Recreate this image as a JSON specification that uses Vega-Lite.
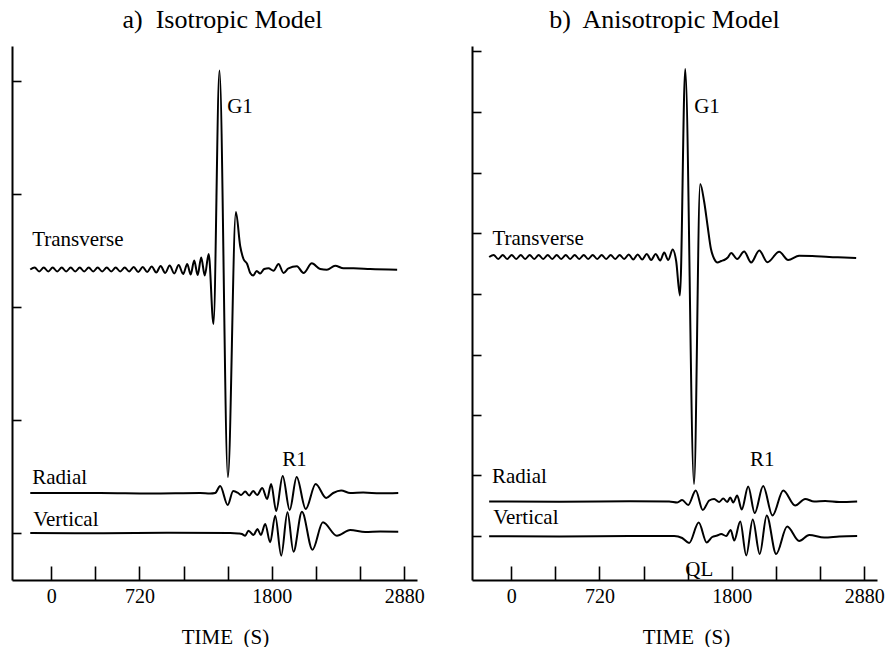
{
  "$schema": "https://vega.github.io/schema/vega-lite/v6.json",
  "padding": {"left": 11, "top": 7, "right": 0, "bottom": 0},
  "background": "white",
  "config": {
    "font": "Liberation Serif",
    "view": {"stroke": null},
    "title": {"font": "Liberation Serif", "fontSize": 26, "fontWeight": "normal", "color": "black", "baseline": "alphabetic", "offset": 13},
    "axis": {"grid": false, "domainColor": "black", "domainWidth": 2, "tickColor": "black", "tickWidth": 1.6, "labelColor": "black", "titleColor": "black", "labelFont": "Liberation Serif", "titleFont": "Liberation Serif"}
  },
  "datasets": {
    "a": [
      {"c":"T","t":-171,"v":310.5},{"c":"T","t":-135,"v":312.5},{"c":"T","t":-98,"v":308.5},{"c":"T","t":-61,"v":312.5},{"c":"T","t":-24,"v":308.5},{"c":"T","t":12,"v":312.5},{"c":"T","t":49,"v":308.5},{"c":"T","t":86,"v":312.5},{"c":"T","t":122,"v":308.5},{"c":"T","t":159,"v":312.5},{"c":"T","t":196,"v":308.5},{"c":"T","t":233,"v":312.5},{"c":"T","t":269,"v":308.5},{"c":"T","t":306,"v":312.5},{"c":"T","t":343,"v":308.5},{"c":"T","t":379,"v":312.5},{"c":"T","t":416,"v":308.5},{"c":"T","t":453,"v":312.5},{"c":"T","t":490,"v":308.5},{"c":"T","t":526,"v":312.5},{"c":"T","t":563,"v":308.5},{"c":"T","t":600,"v":312.5},{"c":"T","t":636,"v":308.5},{"c":"T","t":673,"v":313},{"c":"T","t":710,"v":308},{"c":"T","t":747,"v":313},{"c":"T","t":783,"v":308},{"c":"T","t":820,"v":313.5},{"c":"T","t":857,"v":307.5},{"c":"T","t":893,"v":314},{"c":"T","t":930,"v":307},{"c":"T","t":967,"v":314.5},{"c":"T","t":1004,"v":306.5},{"c":"T","t":1040,"v":315},{"c":"T","t":1077,"v":306},{"c":"T","t":1110,"v":316},{"c":"T","t":1138,"v":305.5},{"c":"T","t":1167,"v":319.5},{"c":"T","t":1195,"v":305},{"c":"T","t":1224,"v":322.5},{"c":"T","t":1253,"v":304.5},{"c":"T","t":1285,"v":326},{"c":"T","t":1324,"v":256},{"c":"T","t":1373,"v":509.5},{"c":"T","t":1442,"v":103},{"c":"T","t":1507,"v":368},{"c":"T","t":1542,"v":334},{"c":"T","t":1569,"v":321},{"c":"T","t":1599,"v":316},{"c":"T","t":1624,"v":307},{"c":"T","t":1648,"v":304.5},{"c":"T","t":1677,"v":309},{"c":"T","t":1705,"v":306.5},{"c":"T","t":1738,"v":311},{"c":"T","t":1773,"v":311.7},{"c":"T","t":1814,"v":309.3},{"c":"T","t":1855,"v":316},{"c":"T","t":1896,"v":307},{"c":"T","t":1936,"v":311.7},{"c":"T","t":2005,"v":313.7},{"c":"T","t":2059,"v":307},{"c":"T","t":2127,"v":316.7},{"c":"T","t":2195,"v":311},{"c":"T","t":2250,"v":310.3},{"c":"T","t":2317,"v":314.3},{"c":"T","t":2385,"v":311.7},{"c":"T","t":2467,"v":311.7},{"c":"T","t":2603,"v":311},{"c":"T","t":2823,"v":310.3},
      {"c":"R","t":-171,"v":87},{"c":"R","t":400,"v":87},{"c":"R","t":808,"v":86.5},{"c":"R","t":1216,"v":87},{"c":"R","t":1297,"v":86.5},{"c":"R","t":1338,"v":87},{"c":"R","t":1379,"v":94},{"c":"R","t":1440,"v":75},{"c":"R","t":1485,"v":89},{"c":"R","t":1526,"v":87},{"c":"R","t":1550,"v":85},{"c":"R","t":1583,"v":88.5},{"c":"R","t":1616,"v":84.5},{"c":"R","t":1648,"v":89},{"c":"R","t":1681,"v":85},{"c":"R","t":1722,"v":92},{"c":"R","t":1762,"v":81},{"c":"R","t":1795,"v":96},{"c":"R","t":1836,"v":69},{"c":"R","t":1889,"v":104},{"c":"R","t":1946,"v":70},{"c":"R","t":2003,"v":103},{"c":"R","t":2077,"v":71},{"c":"R","t":2158,"v":96},{"c":"R","t":2244,"v":82},{"c":"R","t":2301,"v":87},{"c":"R","t":2366,"v":89.5},{"c":"R","t":2440,"v":87},{"c":"R","t":2546,"v":87.5},{"c":"R","t":2685,"v":86.7},{"c":"R","t":2832,"v":87},
      {"c":"V","t":-171,"v":47},{"c":"V","t":400,"v":46.7},{"c":"V","t":971,"v":47.2},{"c":"V","t":1461,"v":47},{"c":"V","t":1526,"v":46.5},{"c":"V","t":1556,"v":46},{"c":"V","t":1583,"v":44.3},{"c":"V","t":1610,"v":49.3},{"c":"V","t":1651,"v":45},{"c":"V","t":1683,"v":51},{"c":"V","t":1711,"v":45},{"c":"V","t":1746,"v":56},{"c":"V","t":1787,"v":37.7},{"c":"V","t":1828,"v":64.3},{"c":"V","t":1877,"v":24.3},{"c":"V","t":1928,"v":67.7},{"c":"V","t":1977,"v":28.3},{"c":"V","t":2046,"v":68.3},{"c":"V","t":2132,"v":30.3},{"c":"V","t":2217,"v":57.7},{"c":"V","t":2331,"v":44.3},{"c":"V","t":2440,"v":50},{"c":"V","t":2562,"v":48},{"c":"V","t":2685,"v":48.5},{"c":"V","t":2832,"v":48.3}
    ],
    "b": [
      {"c":"T","t":-180,"v":323},{"c":"T","t":-143,"v":325},{"c":"T","t":-106,"v":321},{"c":"T","t":-69,"v":325},{"c":"T","t":-33,"v":321},{"c":"T","t":4,"v":325},{"c":"T","t":41,"v":321},{"c":"T","t":78,"v":325},{"c":"T","t":114,"v":321},{"c":"T","t":151,"v":325},{"c":"T","t":188,"v":321},{"c":"T","t":224,"v":325},{"c":"T","t":261,"v":321},{"c":"T","t":298,"v":325},{"c":"T","t":335,"v":321},{"c":"T","t":371,"v":325},{"c":"T","t":408,"v":321},{"c":"T","t":445,"v":325},{"c":"T","t":481,"v":321},{"c":"T","t":518,"v":325},{"c":"T","t":555,"v":321},{"c":"T","t":592,"v":325},{"c":"T","t":628,"v":321},{"c":"T","t":665,"v":325},{"c":"T","t":702,"v":321},{"c":"T","t":738,"v":325},{"c":"T","t":775,"v":321},{"c":"T","t":812,"v":325},{"c":"T","t":849,"v":321},{"c":"T","t":885,"v":325},{"c":"T","t":922,"v":321},{"c":"T","t":959,"v":325.5},{"c":"T","t":996,"v":320.5},{"c":"T","t":1032,"v":325.5},{"c":"T","t":1069,"v":320.5},{"c":"T","t":1106,"v":326},{"c":"T","t":1142,"v":320},{"c":"T","t":1179,"v":326},{"c":"T","t":1216,"v":319.5},{"c":"T","t":1248,"v":327.5},{"c":"T","t":1281,"v":320},{"c":"T","t":1318,"v":330.5},{"c":"T","t":1346,"v":319},{"c":"T","t":1377,"v":284.5},{"c":"T","t":1420,"v":511},{"c":"T","t":1492,"v":96},{"c":"T","t":1542,"v":396},{"c":"T","t":1575,"v":378},{"c":"T","t":1602,"v":354.5},{"c":"T","t":1630,"v":331},{"c":"T","t":1657,"v":321},{"c":"T","t":1683,"v":317.5},{"c":"T","t":1714,"v":319},{"c":"T","t":1738,"v":320},{"c":"T","t":1767,"v":322.5},{"c":"T","t":1795,"v":327},{"c":"T","t":1844,"v":321},{"c":"T","t":1901,"v":328.5},{"c":"T","t":1958,"v":317.5},{"c":"T","t":2024,"v":329.5},{"c":"T","t":2091,"v":317.8},{"c":"T","t":2187,"v":328.2},{"c":"T","t":2260,"v":320},{"c":"T","t":2350,"v":324.3},{"c":"T","t":2456,"v":324},{"c":"T","t":2595,"v":323},{"c":"T","t":2717,"v":322.5},{"c":"T","t":2815,"v":322},
      {"c":"R","t":-180,"v":78.5},{"c":"R","t":392,"v":78.3},{"c":"R","t":963,"v":78.7},{"c":"R","t":1289,"v":78.5},{"c":"R","t":1355,"v":77.5},{"c":"R","t":1395,"v":80},{"c":"R","t":1444,"v":75},{"c":"R","t":1506,"v":89.5},{"c":"R","t":1563,"v":70},{"c":"R","t":1616,"v":79.5},{"c":"R","t":1656,"v":81},{"c":"R","t":1697,"v":78},{"c":"R","t":1730,"v":81.5},{"c":"R","t":1763,"v":78},{"c":"R","t":1787,"v":82.5},{"c":"R","t":1812,"v":77.5},{"c":"R","t":1844,"v":84.5},{"c":"R","t":1881,"v":70.5},{"c":"R","t":1934,"v":93.5},{"c":"R","t":1987,"v":67},{"c":"R","t":2056,"v":94},{"c":"R","t":2132,"v":64.5},{"c":"R","t":2220,"v":89.5},{"c":"R","t":2317,"v":74.5},{"c":"R","t":2399,"v":81},{"c":"R","t":2472,"v":78.5},{"c":"R","t":2562,"v":79},{"c":"R","t":2677,"v":78},{"c":"R","t":2823,"v":78.5},
      {"c":"V","t":-180,"v":43.7},{"c":"V","t":392,"v":43.5},{"c":"V","t":963,"v":44},{"c":"V","t":1330,"v":44},{"c":"V","t":1395,"v":42},{"c":"V","t":1452,"v":37},{"c":"V","t":1530,"v":57.5},{"c":"V","t":1595,"v":37.5},{"c":"V","t":1640,"v":43},{"c":"V","t":1681,"v":44.5},{"c":"V","t":1714,"v":46},{"c":"V","t":1754,"v":44},{"c":"V","t":1791,"v":50},{"c":"V","t":1820,"v":39.5},{"c":"V","t":1869,"v":58.5},{"c":"V","t":1918,"v":24.5},{"c":"V","t":1971,"v":60.5},{"c":"V","t":2028,"v":26},{"c":"V","t":2085,"v":64.5},{"c":"V","t":2162,"v":26},{"c":"V","t":2252,"v":53.5},{"c":"V","t":2350,"v":39},{"c":"V","t":2432,"v":45},{"c":"V","t":2554,"v":42.5},{"c":"V","t":2677,"v":43.5},{"c":"V","t":2823,"v":44}
    ],
    "labA": [
      {"t":-155,"v":334,"text":"Transverse"},{"t":-155,"v":96,"text":"Radial"},{"t":-147,"v":54,"text":"Vertical"},{"t":1436,"v":467,"text":"G1"},{"t":1885,"v":114,"text":"R1"}
    ],
    "labB": [
      {"t":-153,"v":335,"text":"Transverse"},{"t":-157,"v":97,"text":"Radial"},{"t":-147,"v":56,"text":"Vertical"},{"t":1493,"v":467,"text":"G1"},{"t":1948,"v":114,"text":"R1"},{"t":1420,"v":4,"text":"QL"}
    ]
  },
  "spacing": 46,
  "hconcat": [
    {
      "width": 405, "height": 534,
      "title": {"text": "a)\u00a0 Isotropic Model", "dx": 8},
      "layer": [
        {
          "data": {"name": "a"},
          "mark": {"type": "line", "color": "black", "strokeWidth": 2, "interpolate": "monotone"},
          "encoding": {
            "x": {"field": "t", "type": "quantitative", "scale": {"domain": [-320, 2985], "nice": false, "zero": false},
                  "axis": {"values": [0,360,720,1080,1440,1800,2160,2520,2880], "labelExpr": "indexof([0,720,1800,2880], datum.value) >= 0 ? datum.value + '' : ''", "tickSize": -14, "labelPadding": 20, "labelFontSize": 20, "labelFlush": false, "labelOverlap": false, "title": "TIME\u00a0\u00a0(S)", "titleFontSize": 21, "titleFontWeight": "normal", "titlePadding": 20, "titleX": 213}},
            "y": {"field": "v", "type": "quantitative", "scale": {"domain": [0, 534], "nice": false, "zero": false},
                  "axis": {"values": [47,160,273,386,499], "labels": false, "title": null, "tickSize": -9}},
            "detail": {"field": "c"}
          }
        },
        {
          "data": {"name": "labA"},
          "mark": {"type": "text", "align": "left", "baseline": "alphabetic", "fontSize": 21, "font": "Liberation Serif", "color": "black"},
          "encoding": {
            "x": {"field": "t", "type": "quantitative"},
            "y": {"field": "v", "type": "quantitative"},
            "text": {"field": "text"}
          }
        }
      ]
    },
    {
      "width": 405, "height": 534,
      "title": {"text": "b)\u00a0 Anisotropic Model", "dx": -10},
      "layer": [
        {
          "data": {"name": "b"},
          "mark": {"type": "line", "color": "black", "strokeWidth": 2, "interpolate": "monotone"},
          "encoding": {
            "x": {"field": "t", "type": "quantitative", "scale": {"domain": [-320, 2985], "nice": false, "zero": false},
                  "axis": {"values": [0,360,720,1080,1440,1800,2160,2520,2880], "labelExpr": "indexof([0,720,1800,2880], datum.value) >= 0 ? datum.value + '' : ''", "tickSize": -14, "labelPadding": 20, "labelFontSize": 20, "labelFlush": false, "labelOverlap": false, "title": "TIME\u00a0\u00a0(S)", "titleFontSize": 21, "titleFontWeight": "normal", "titlePadding": 20, "titleX": 214}},
            "y": {"field": "v", "type": "quantitative", "scale": {"domain": [0, 534], "nice": false, "zero": false},
                  "axis": {"values": [44,105,165,225,286,347,407,468,529], "labels": false, "title": null, "tickSize": -9}},
            "detail": {"field": "c"}
          }
        },
        {
          "data": {"name": "labB"},
          "mark": {"type": "text", "align": "left", "baseline": "alphabetic", "fontSize": 21, "font": "Liberation Serif", "color": "black"},
          "encoding": {
            "x": {"field": "t", "type": "quantitative"},
            "y": {"field": "v", "type": "quantitative"},
            "text": {"field": "text"}
          }
        }
      ]
    }
  ]
}
